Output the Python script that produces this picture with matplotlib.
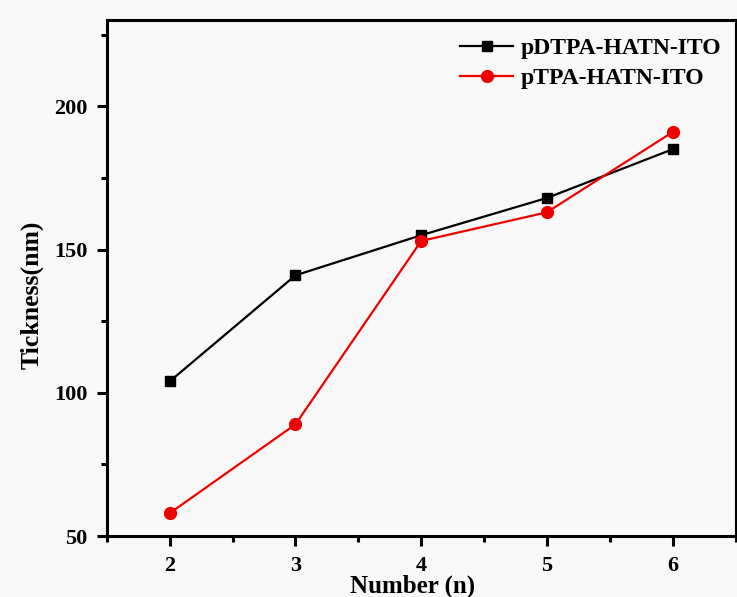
import matplotlib.pyplot as plt
from matplotlib.ticker import MultipleLocator

plt.rcParams['font.family'] = ['Liberation Serif', 'DejaVu Serif']
plt.rcParams['font.weight'] = 'bold'

number = [2, 3, 4, 5, 6]
pdtpa_thickness = [104, 141, 155, 168, 185]
ptpa_thickness = [58, 89, 153, 163, 191]

fig = plt.figure(figsize=(7.37, 5.97), dpi=100, facecolor='#f8f8f8')
ax = fig.add_axes([0.145, 0.102, 0.853, 0.864])
ax.set_facecolor('#f8f8f8')

ax.plot(number, pdtpa_thickness, color='black', lw=1.6, marker='s', ms=7.5,
        label='pDTPA-HATN-ITO')
ax.plot(number, ptpa_thickness, color='#ee0000', lw=1.6, marker='o', ms=8.5,
        label='pTPA-HATN-ITO')

ax.set_xlim(1.5, 6.5)
ax.set_ylim(50, 230)
ax.xaxis.set_major_locator(MultipleLocator(1))
ax.xaxis.set_minor_locator(MultipleLocator(0.5))
ax.yaxis.set_major_locator(MultipleLocator(50))
ax.yaxis.set_minor_locator(MultipleLocator(25))

for s in ax.spines.values():
    s.set_linewidth(2.2)
ax.tick_params(which='major', direction='out', length=7, width=2.2,
               labelsize=16, pad=7, top=False, right=False)
ax.tick_params(which='minor', direction='out', length=4, width=2.2,
               top=False, right=False)
for t in ax.get_xticklabels() + ax.get_yticklabels():
    t.set_fontweight('bold')

ax.set_xlabel('Number (n)', fontsize=18, fontweight='bold')
ax.xaxis.set_label_coords(0.487, -0.074)
ax.set_ylabel('Tickness(nm)', fontsize=18.5, fontweight='bold')
ax.yaxis.set_label_coords(-0.10, 0.467)

leg = ax.legend(loc='upper left', bbox_to_anchor=(0.547, 0.985), frameon=False,
                fontsize=17, handlelength=2.25, handletextpad=0.3,
                labelspacing=0.35, borderaxespad=0)
for t in leg.get_texts():
    t.set_fontweight('bold')

fig.savefig('out.png', dpi=100, facecolor=fig.get_facecolor())
